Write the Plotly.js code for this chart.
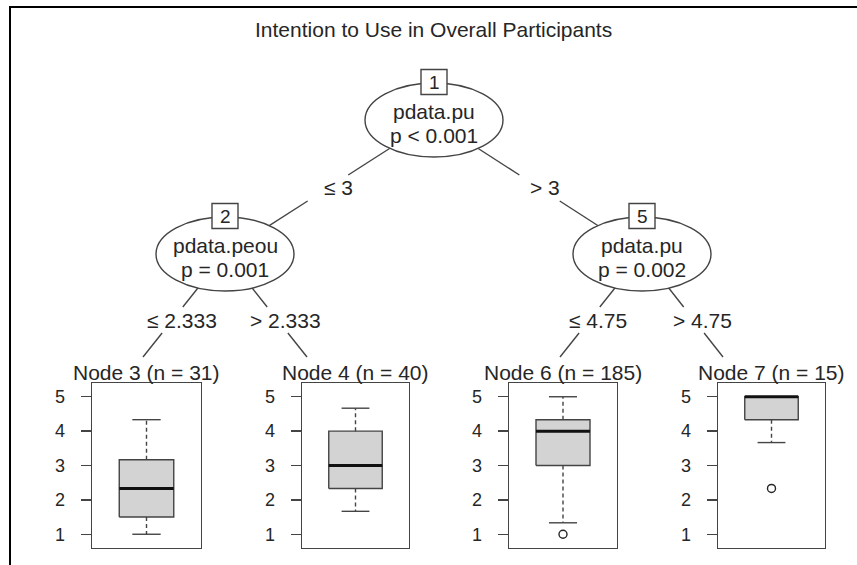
<!DOCTYPE html>
<html>
<head>
<meta charset="utf-8">
<script src="https://cdn.plot.ly/plotly-3.0.1.min.js"></script>
<style>html,body{margin:0;padding:0;background:#fff;}#chart{width:857px;height:565px;}</style>
</head>
<body>
<div id="chart"></div>
<script>
// ---------------- DATA ----------------
const chartTitle = 'Intention to Use in Overall Participants';
const innerIds = [1, 2, 5];
const innerVars = ['pdata.pu', 'pdata.peou', 'pdata.pu'];
const innerP = ['p < 0.001', 'p = 0.001', 'p = 0.002'];
const edgeLabels = ['\u2264 3', '> 3', '\u2264 2.333', '> 2.333', '\u2264 4.75', '> 4.75'];
const termIds = [3, 4, 6, 7];
const termN = [31, 40, 185, 15];
const lowerWhisker = [1, 1.667, 1.333, 3.667];
const q1 = [1.5, 2.333, 3, 4.333];
const median = [2.333, 3, 4, 5];
const q3 = [3.167, 4, 4.333, 5];
const upperWhisker = [4.333, 4.667, 5, 5];
const outliers = [[], [], [1], [2.333]];
const yTicks = [1, 2, 3, 4, 5];
const yRange = [0.6, 5.4];

// ---------------- LAYOUT / STYLE ----------------
const W = 857, H = 565;
const px = x => x / W;
const py = y => 1 - y / H;
const FONT = '"Liberation Sans", Arial, Helvetica, sans-serif';
const TXT = '#262626';
const LINE = '#444444';
const FS = 21;
const innerPos = [[434, 120], [225, 254], [642, 254]];
const ellR = [69, 37];
const edgeGeom = [
  {from: [434, 120], to: [225, 254], label: [338, 188]},
  {from: [434, 120], to: [642, 254], label: [545, 188]},
  {from: [225, 254], to: [143, 357], label: [182, 320]},
  {from: [225, 254], to: [307, 357], label: [285, 320]},
  {from: [642, 254], to: [560, 357], label: [598, 320]},
  {from: [642, 254], to: [723, 357], label: [702, 320]}
];
const panelX = [[92, 201], [302, 409], [509, 617], [718, 825]];
const panelY = [383, 548];
const termLabelY = 372;
const boxHalf = 0.25, capHalf = 0.13;

const traces = [];
const shapes = [];
const annotations = [];
const layout = {
  width: W, height: H,
  margin: {l: 0, r: 0, t: 0, b: 0},
  paper_bgcolor: '#ffffff', plot_bgcolor: '#ffffff',
  showlegend: false,
  font: {family: FONT, color: TXT},
  shapes: shapes, annotations: annotations
};

// outer frame (top and left)
shapes.push({type: 'line', xref: 'paper', yref: 'paper', x0: px(9), x1: px(857), y0: py(7), y1: py(7), line: {color: '#000', width: 2}});
shapes.push({type: 'line', xref: 'paper', yref: 'paper', x0: px(10), x1: px(10), y0: py(7), y1: py(565), line: {color: '#000', width: 2}});

// title
annotations.push({xref: 'paper', yref: 'paper', x: px(433), y: py(30), text: chartTitle, showarrow: false,
  font: {size: FS, color: TXT, family: FONT}, xanchor: 'center', yanchor: 'middle'});

// edges with a gap for the label
const gapHalf = 13;
edgeGeom.forEach((e, i) => {
  const [x0, y0] = e.from, [x1, y1] = e.to;
  const xAt = y => x0 + (x1 - x0) * (y - y0) / (y1 - y0);
  const ya = e.label[1] - gapHalf, yb = e.label[1] + gapHalf;
  shapes.push({type: 'line', xref: 'paper', yref: 'paper', x0: px(x0), y0: py(y0), x1: px(xAt(ya)), y1: py(ya), line: {color: LINE, width: 1.4}, layer: 'below'});
  shapes.push({type: 'line', xref: 'paper', yref: 'paper', x0: px(xAt(yb)), y0: py(yb), x1: px(x1), y1: py(y1), line: {color: LINE, width: 1.4}, layer: 'below'});
  annotations.push({xref: 'paper', yref: 'paper', x: px(e.label[0]), y: py(e.label[1]), text: edgeLabels[i], showarrow: false,
    font: {size: FS, color: TXT, family: FONT}, xanchor: 'center', yanchor: 'middle'});
});

// inner nodes
innerIds.forEach((id, i) => {
  const [cx, cy] = innerPos[i];
  shapes.push({type: 'circle', xref: 'paper', yref: 'paper', x0: px(cx - ellR[0]), x1: px(cx + ellR[0]), y0: py(cy + ellR[1]), y1: py(cy - ellR[1]),
    fillcolor: '#ffffff', line: {color: LINE, width: 1.4}, layer: 'below'});
  shapes.push({type: 'rect', xref: 'paper', yref: 'paper', x0: px(cx - 13), x1: px(cx + 13), y0: py(cy - 38 + 12.5), y1: py(cy - 38 - 12.5),
    fillcolor: '#ffffff', line: {color: LINE, width: 1.4}, layer: 'below'});
  annotations.push({xref: 'paper', yref: 'paper', x: px(cx), y: py(cy - 38), text: String(id), showarrow: false,
    font: {size: 19, color: TXT, family: FONT}, xanchor: 'center', yanchor: 'middle'});
  annotations.push({xref: 'paper', yref: 'paper', x: px(cx), y: py(cy - 9), text: innerVars[i], showarrow: false,
    font: {size: FS, color: TXT, family: FONT}, xanchor: 'center', yanchor: 'middle'});
  annotations.push({xref: 'paper', yref: 'paper', x: px(cx), y: py(cy + 15), text: innerP[i], showarrow: false,
    font: {size: FS, color: TXT, family: FONT}, xanchor: 'center', yanchor: 'middle'});
});

// terminal nodes
termIds.forEach((id, i) => {
  const s = i === 0 ? '' : String(i + 1);
  const xa = 'x' + s, ya = 'y' + s;
  layout['xaxis' + s] = {domain: [px(panelX[i][0]), px(panelX[i][1])], range: [-0.5, 0.5], anchor: ya,
    showline: true, mirror: true, linecolor: LINE, linewidth: 1.4, showticklabels: false, ticks: '',
    showgrid: false, zeroline: false, fixedrange: true};
  layout['yaxis' + s] = {domain: [py(panelY[1]), py(panelY[0])], range: yRange, anchor: xa,
    tickvals: yTicks, ticktext: yTicks.map(String), ticks: 'outside', ticklen: 10, tickwidth: 1.4, tickcolor: LINE,
    showline: true, mirror: true, linecolor: LINE, linewidth: 1.4, showgrid: false, zeroline: false,
    tickfont: {size: 18, color: TXT, family: FONT}, ticklabelstandoff: 12, fixedrange: true};
  const cx = (panelX[i][0] + panelX[i][1]) / 2;
  annotations.push({xref: 'paper', yref: 'paper', x: px(cx), y: py(termLabelY), text: 'Node ' + id + ' (n = ' + termN[i] + ')',
    showarrow: false, font: {size: FS, color: TXT, family: FONT}, xanchor: 'center', yanchor: 'middle'});

  // box body
  traces.push({type: 'scatter', mode: 'lines', xaxis: xa, yaxis: ya, hoverinfo: 'skip',
    x: [-boxHalf, boxHalf, boxHalf, -boxHalf, -boxHalf], y: [q1[i], q1[i], q3[i], q3[i], q1[i]],
    fill: 'toself', fillcolor: '#d3d3d3', line: {color: LINE, width: 1.4}});
  // whiskers (dashed)
  traces.push({type: 'scatter', mode: 'lines', xaxis: xa, yaxis: ya, hoverinfo: 'skip',
    x: [0, 0, null, 0, 0], y: [q3[i], upperWhisker[i], null, q1[i], lowerWhisker[i]],
    line: {color: LINE, width: 1.4, dash: '4px,3px'}});
  // caps
  traces.push({type: 'scatter', mode: 'lines', xaxis: xa, yaxis: ya, hoverinfo: 'skip',
    x: [-capHalf, capHalf, null, -capHalf, capHalf], y: [upperWhisker[i], upperWhisker[i], null, lowerWhisker[i], lowerWhisker[i]],
    line: {color: LINE, width: 1.4}});
  // median
  traces.push({type: 'scatter', mode: 'lines', xaxis: xa, yaxis: ya, hoverinfo: 'skip',
    x: [-boxHalf, boxHalf], y: [median[i], median[i]], line: {color: '#111111', width: 3}});
  // outliers
  if (outliers[i].length) {
    traces.push({type: 'scatter', mode: 'markers', xaxis: xa, yaxis: ya, hoverinfo: 'skip',
      x: outliers[i].map(() => 0), y: outliers[i],
      marker: {symbol: 'circle-open', size: 8, color: TXT, line: {width: 1.4, color: TXT}}});
  }
});

Plotly.newPlot('chart', traces, layout, {staticPlot: true, displayModeBar: false});
</script>
</body>
</html>
